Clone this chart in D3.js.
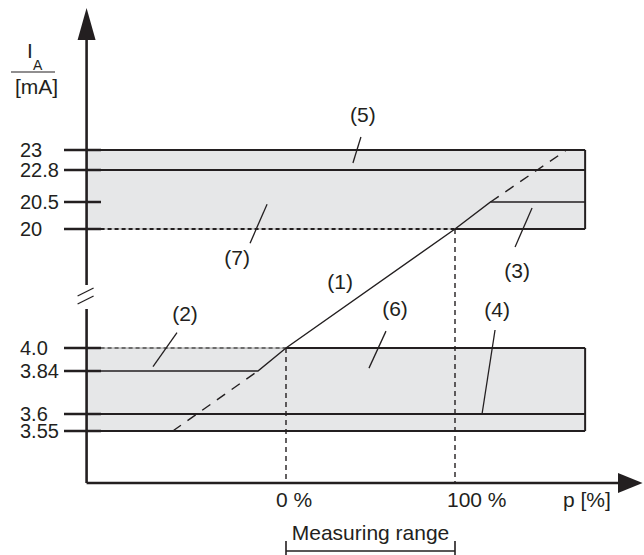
<!DOCTYPE html>
<html>
<head>
<meta charset="utf-8">
<script src="https://cdn.jsdelivr.net/npm/d3@7"></script>
<style>
  body { margin: 0; background: #ffffff; }
  svg text { font-family: "Liberation Sans", Arial, sans-serif; fill: #231f20; }
</style>
</head>
<body>
<svg id="chart" width="644" height="555"></svg>
<script>
// Current output diagram (schematic)

// y ticks (mA), upper and lower group
const yTickValues = [23, 22.8, 20.5, 20, 4.0, 3.84, 3.6, 3.55];
const yTickLabels = ["23", "22.8", "20.5", "20", "4.0", "3.84", "3.6", "3.55"];
// x ticks (% of measuring range)
const xTickValues = [0, 100];
const xTickLabels = ["0 %", "100 %"];

// bands
const upperBand = [20, 23];
const lowerBand = [3.55, 4.0];
const boldLevels = [23, 22.8, 3.6, 3.55];

// output curve: solid part and the dashed extension of (1)
const curveP = [-118, -16.6, 0, 100, 121, 177];
const curveI = [3.84, 3.84, 4.0, 20, 20.5, 20.5];
const dashLowP = [-67, -16.6];
const dashLowI = [3.55, 3.84];
const dashHighP = [121, 166];
const dashHighI = [20.5, 23];

// callout labels, anchored on data points
const calloutNames = ["(1)", "(2)", "(3)", "(4)", "(5)", "(6)", "(7)"];
const calloutP = [32, -78.7, 145.6, 116, 39.6, 49.1, -11.2];
const calloutI = [11.3, 3.87, 20.39, 3.6, 22.87, 3.86, 20.46];

const pAxis = -118, pBandEnd = 177, pArrow = 211;

let svg = d3.select("#chart");
const ink = "#231f20";
const bandFill = "#e6e7e8";
const fs = 21;

let x = d3.scaleLinear().domain([0, 100]).range([286, 455]);
// schematic (broken) current axis
let y = d3.scaleLinear()
    .domain([3.55, 3.6, 3.84, 4.0, 20, 20.5, 22.8, 23])
    .range([431, 414, 371, 348, 229, 202, 170, 150]);

const xAxisY = 483;
const axisX = x(pAxis);

// bands
[upperBand, lowerBand].forEach(b => {
    svg.append("rect")
        .attr("x", axisX)
        .attr("y", y(b[1]))
        .attr("width", x(pBandEnd) - axisX)
        .attr("height", y(b[0]) - y(b[1]))
        .attr("fill", bandFill);
    svg.append("line")
        .attr("x1", x(pBandEnd)).attr("x2", x(pBandEnd))
        .attr("y1", y(b[1])).attr("y2", y(b[0]))
        .attr("stroke", ink).attr("stroke-width", 2);
});

// bold limit lines
boldLevels.forEach(v => {
    svg.append("line")
        .attr("x1", axisX).attr("x2", x(pBandEnd))
        .attr("y1", y(v)).attr("y2", y(v))
        .attr("stroke", ink).attr("stroke-width", 2.2);
});

// 20 mA and 4 mA edges: dashed up to the range end, solid after
[[20, 100, ink], [4.0, 0, "#6d6d6d"]].forEach(d => {
    svg.append("line")
        .attr("x1", axisX).attr("x2", x(d[1]))
        .attr("y1", y(d[0])).attr("y2", y(d[0]))
        .attr("stroke", "#9a9a9a").attr("stroke-width", 1);
    svg.append("line")
        .attr("x1", axisX).attr("x2", x(d[1]))
        .attr("y1", y(d[0])).attr("y2", y(d[0]))
        .attr("stroke", d[2]).attr("stroke-width", 2)
        .attr("stroke-dasharray", "4,3");
    svg.append("line")
        .attr("x1", x(d[1])).attr("x2", x(pBandEnd))
        .attr("y1", y(d[0])).attr("y2", y(d[0]))
        .attr("stroke", ink).attr("stroke-width", 2.2);
});

// vertical guides at 0 % and 100 %
[[0, 4.0], [100, 20]].forEach(d => {
    svg.append("line")
        .attr("x1", x(d[0])).attr("x2", x(d[0]))
        .attr("y1", y(d[1])).attr("y2", xAxisY)
        .attr("stroke", ink).attr("stroke-width", 1.4)
        .attr("stroke-dasharray", "5,4");
});

// curves
let line = d3.line().x(d => x(d[0])).y(d => y(d[1]));
svg.append("path")
    .datum(curveP.map((p, i) => [p, curveI[i]]))
    .attr("d", line)
    .attr("fill", "none").attr("stroke", ink).attr("stroke-width", 1.4);
[[dashLowP, dashLowI], [dashHighP, dashHighI]].forEach(s => {
    svg.append("path")
        .datum(s[0].map((p, i) => [p, s[1][i]]))
        .attr("d", line)
        .attr("fill", "none").attr("stroke", ink).attr("stroke-width", 1.4)
        .attr("stroke-dasharray", "10,8");
});

// y axis (broken)
svg.append("line")
    .attr("x1", axisX).attr("x2", axisX).attr("y1", 38).attr("y2", 285)
    .attr("stroke", ink).attr("stroke-width", 2.6);
svg.append("line")
    .attr("x1", axisX).attr("x2", axisX).attr("y1", 309).attr("y2", xAxisY)
    .attr("stroke", ink).attr("stroke-width", 2.6);
svg.append("path")
    .attr("d", `M${axisX},8 L${axisX - 9},40 L${axisX + 9},40 Z`)
    .attr("fill", ink);
[[296, 288], [304, 296]].forEach(s => {
    svg.append("line")
        .attr("x1", axisX - 9).attr("x2", axisX + 7)
        .attr("y1", s[0]).attr("y2", s[1])
        .attr("stroke", ink).attr("stroke-width", 1.3);
});

// y ticks
yTickValues.forEach((v, i) => {
    svg.append("line")
        .attr("x1", 64).attr("x2", 101)
        .attr("y1", y(v)).attr("y2", y(v))
        .attr("stroke", ink).attr("stroke-width", 2.6);
    svg.append("text")
        .attr("x", 20).attr("y", y(v) + 7)
        .attr("font-size", 20)
        .text(yTickLabels[i]);
});

// y title
svg.append("text").attr("x", 27).attr("y", 58).attr("font-size", fs).text("I");
svg.append("text").attr("x", 33).attr("y", 70).attr("font-size", 14).text("A");
svg.append("line").attr("x1", 11).attr("x2", 55).attr("y1", 72).attr("y2", 72)
    .attr("stroke", ink).attr("stroke-width", 1.2);
svg.append("text").attr("x", 15).attr("y", 94).attr("font-size", fs).text("[mA]");

// x axis
svg.append("line")
    .attr("x1", axisX).attr("x2", 620).attr("y1", xAxisY).attr("y2", xAxisY)
    .attr("stroke", ink).attr("stroke-width", 2.6);
svg.append("path")
    .attr("d", `M${x(pArrow)},${xAxisY} L618,${xAxisY - 10} L618,${xAxisY + 10} Z`)
    .attr("fill", ink);
xTickValues.forEach((v, i) => {
    svg.append("text")
        .attr("x", x(v) - (i == 0 ? 10 : 8)).attr("y", 507)
        .attr("font-size", fs)
        .text(xTickLabels[i]);
});
svg.append("text").attr("x", 563).attr("y", 507).attr("font-size", fs).text("p [%]");

// measuring range bracket
svg.append("text")
    .attr("x", x(50)).attr("y", 540)
    .attr("text-anchor", "middle").attr("font-size", fs)
    .text("Measuring range");
svg.append("path")
    .attr("d", `M${x(0)},541 L${x(0)},556 M${x(0)},551 L${x(100)},551 M${x(100)},541 L${x(100)},556`)
    .attr("fill", "none").attr("stroke", ink).attr("stroke-width", 1.6);

// callouts: leader offset and text offset from the anchor
const leaderOff = [null, [24, -34], [-17, 39], [13, -84], [8, -26], [17, -37], [-17, 39]];
const textOff = [[0, -21], [32, -46], [-15, 70], [15, -97], [10, -41], [26, -52], [-30, 61]];
calloutNames.forEach((n, i) => {
    let ax = x(calloutP[i]), ay = y(calloutI[i]);
    if (i == 0) { ay = 310; }
    if (leaderOff[i]) {
        svg.append("line")
            .attr("x1", ax).attr("y1", ay)
            .attr("x2", ax + leaderOff[i][0]).attr("y2", ay + leaderOff[i][1])
            .attr("stroke", ink).attr("stroke-width", 1.3);
    }
    svg.append("text")
        .attr("x", ax + textOff[i][0]).attr("y", ay + textOff[i][1])
        .attr("text-anchor", "middle").attr("font-size", fs)
        .text(n);
});
</script>
</body>
</html>
